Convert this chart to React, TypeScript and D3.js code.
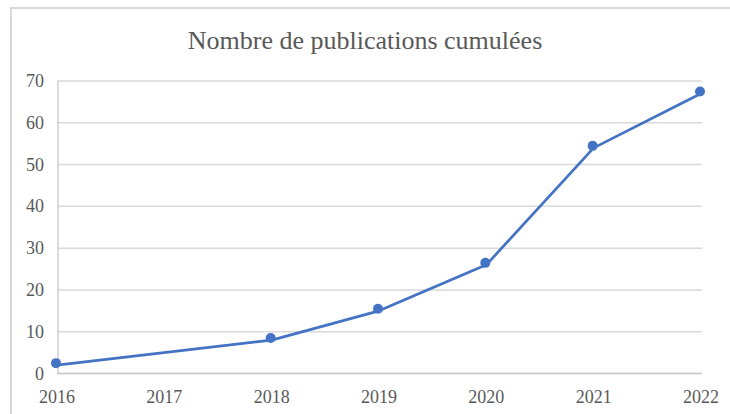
import React, { useEffect, useRef } from "react";
import * as d3 from "d3";

const years = ["2016", "2017", "2018", "2019", "2020", "2021", "2022"];
// 2017 has no value: the line just runs across it
const publications: (number | null)[] = [2, null, 8, 15, 26, 54, 67];
const yTicks = [0, 10, 20, 30, 40, 50, 60, 70];

const W = 730;
const H = 414;
const blue = "#4472c4";
const grey = "#595959";
const serifFont = "'Times New Roman', Tinos, 'Liberation Serif', 'DejaVu Serif', serif";

export default function App() {
  const svgRef = useRef<SVGSVGElement | null>(null);

  useEffect(() => {
    const svg = d3.select(svgRef.current);
    svg.selectAll("*").remove();

    const left = 57;
    const right = 701;
    const top = 81;
    const bottom = 373.5;

    const x = d3.scalePoint<string>().domain(years).range([left, right]);
    const y = d3.scaleLinear().domain([0, 70]).range([bottom, top]);

    // chart frame
    svg
      .append("rect")
      .attr("x", 11)
      .attr("y", 8)
      .attr("width", W + 20)
      .attr("height", H + 20)
      .attr("fill", "#fff")
      .attr("stroke", "#d9d9d9")
      .attr("stroke-width", 2);

    svg
      .append("text")
      .attr("x", 365)
      .attr("y", 49)
      .attr("text-anchor", "middle")
      .attr("fill", grey)
      .style("font-family", serifFont)
      .style("font-size", "26px")
      .text("Nombre de publications cumulées");

    // gridlines
    svg
      .append("g")
      .selectAll("line")
      .data(yTicks)
      .join("line")
      .attr("x1", left)
      .attr("x2", right + 1)
      .attr("y1", d => y(d))
      .attr("y2", d => y(d))
      .attr("stroke", "#d9d9d9")
      .attr("stroke-width", 1.5);

    // y axis line
    svg
      .append("line")
      .attr("x1", left + 1)
      .attr("x2", left + 1)
      .attr("y1", top)
      .attr("y2", bottom)
      .attr("stroke", "#d0d0d0")
      .attr("stroke-width", 1.5);

    svg
      .append("line")
      .attr("x1", left)
      .attr("x2", right + 1)
      .attr("y1", bottom)
      .attr("y2", bottom)
      .attr("stroke", "#c8c8c8")
      .attr("stroke-width", 1.5);

    svg
      .append("g")
      .selectAll("text")
      .data(yTicks)
      .join("text")
      .attr("x", 44)
      .attr("y", d => y(d))
      .attr("dy", "0.34em")
      .attr("text-anchor", "end")
      .attr("fill", grey)
      .style("font-family", serifFont)
      .style("font-size", "18px")
      .text(d => d);

    svg
      .append("g")
      .selectAll("text")
      .data(years)
      .join("text")
      .attr("x", d => x(d)!)
      .attr("y", 403)
      .attr("text-anchor", "middle")
      .attr("fill", grey)
      .style("font-family", serifFont)
      .style("font-size", "18px")
      .text(d => d);

    const pts = years
      .map((yr, i) => ({ yr, v: publications[i] }))
      .filter(d => d.v !== null) as { yr: string; v: number }[];

    const line = d3
      .line<{ yr: string; v: number }>()
      .x(d => x(d.yr)!)
      .y(d => y(d.v));

    svg
      .append("path")
      .datum(pts)
      .attr("d", line)
      .attr("fill", "none")
      .attr("stroke", blue)
      .attr("stroke-width", 2.75)
      .attr("stroke-linejoin", "round");

    svg
      .append("g")
      .selectAll("circle")
      .data(pts)
      .join("circle")
      .attr("cx", d => x(d.yr)! - 1)
      .attr("cy", d => y(d.v) - 2)
      .attr("r", 5)
      .attr("fill", blue);
  }, []);

  return (
    <svg
      ref={svgRef}
      width={W}
      height={H}
      style={{ position: "absolute", left: 0, top: 0, background: "#fff", fontFamily: serifFont }}
    />
  );
}
